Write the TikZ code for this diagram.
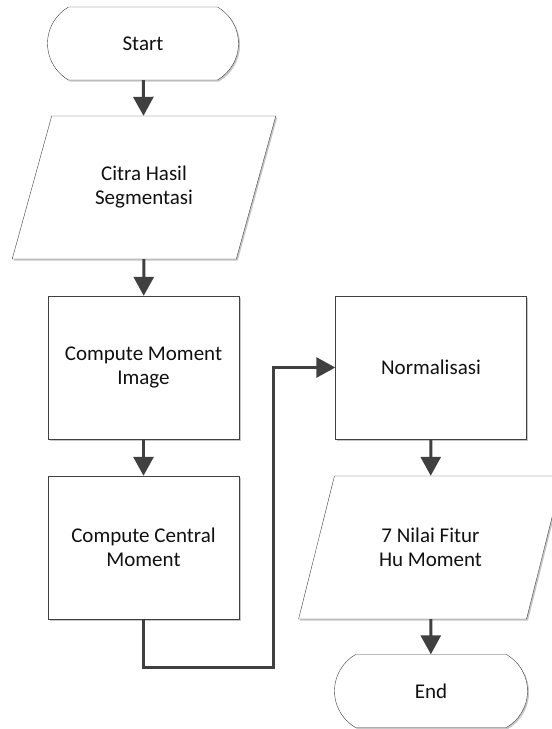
\documentclass[tikz,border=0pt]{standalone}
\usepackage{fontspec}
\setmainfont{Carlito}
\usetikzlibrary{arrows.meta,shapes.geometric,shapes.misc,shadows}
\definecolor{linegray}{HTML}{404040}
\definecolor{textgray}{HTML}{111111}
\tikzset{
	shade/.style={drop shadow={shadow xshift=1.5pt,shadow yshift=-1.5pt,fill=black!22,opacity=1}},
	term/.style={rounded rectangle,rounded rectangle arc length=120,draw=linegray,fill=white,shade,minimum width=#1,minimum height=73pt,inner sep=0pt,align=center,text=textgray,font=\fontsize{21}{24}\selectfont},
	io/.style={trapezium,trapezium left angle=63.6,trapezium right angle=116.4,trapezium stretches=true,draw=linegray,fill=white,shade,minimum width=264pt,minimum height=143pt,inner sep=0pt,align=center,text=textgray,font=\fontsize{21}{24}\selectfont},
	proc/.style={rectangle,draw=linegray,fill=white,shade,minimum width=191pt,minimum height=143pt,inner sep=0pt,align=center,text=textgray,font=\fontsize{21}{24}\selectfont},
	flow/.style={draw=linegray,line width=3pt,-{Triangle[length=19pt,width=20pt]}}
}
\begin{document}
\begin{tikzpicture}[x=1pt,y=-1pt]
	\useasboundingbox (0,0) rectangle (552,729);
	\node [term=191pt] (start) at (143,43.5) {Start};
	\node [io] (citra) at (144,187.5) {Citra Hasil\\Segmentasi};
	\node [proc] (moment) at (143.5,367.5) {Compute Moment\\Image};
	\node [proc] (central) at (143.5,547.5) {Compute Central\\Moment};
	\node [proc] (norm) at (431,367.5) {Normalisasi};
	\node [io] (hu) at (430.5,547.5) {7 Nilai Fitur\\Hu Moment};
	\node [term=193pt] (end) at (431,691) {End};
	\coordinate (bend) at (273,667);

	\draw [flow] (start) -- (citra);
	\draw [flow] (citra) -- (moment);
	\draw [flow] (moment) -- (central);
	\draw [flow] (central.south) |- (bend) |- (norm.west);
	\draw [flow] (norm) -- (hu);
	\draw [flow] (hu) -- (end);
\end{tikzpicture}
\end{document}
